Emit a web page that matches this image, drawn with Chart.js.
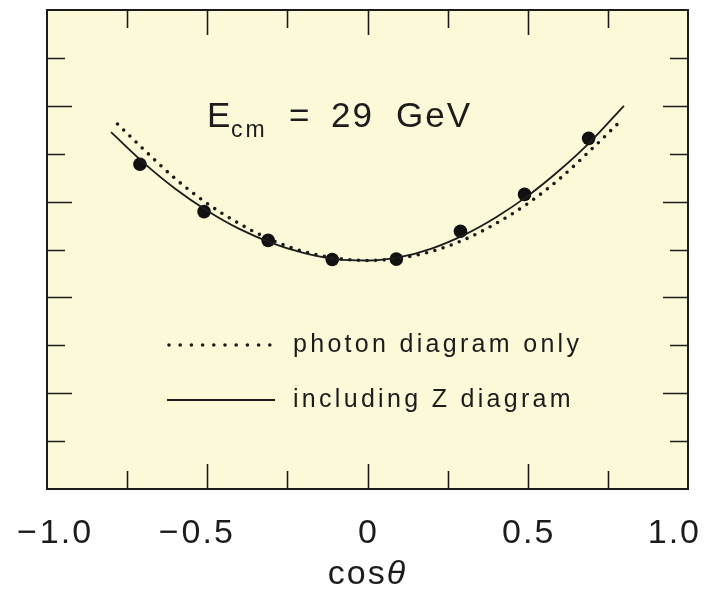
<!DOCTYPE html>
<html>
<head>
<meta charset="utf-8">
<script src="https://cdn.jsdelivr.net/npm/chart.js@4"></script>
<style>
html,body{margin:0;padding:0;background:#fff;}
#wrap{position:relative;width:715px;height:592px;}
</style>
</head>
<body>
<div id="wrap"><canvas id="c"></canvas></div>
<script>
// ---- data ----
const measuredCos = [-0.71, -0.51, -0.31, -0.11, 0.09, 0.29, 0.49, 0.69];
const measuredVal = [6.78, 5.79, 5.19, 4.79, 4.80, 5.38, 6.15, 7.32];

const photonCos = [-0.78, -0.7, -0.6, -0.5, -0.4, -0.3, -0.2, -0.1, 0, 0.1, 0.2, 0.3, 0.4, 0.5, 0.6, 0.7, 0.78];
const photonVal = [7.62, 7.10, 6.48, 5.96, 5.54, 5.20, 4.96, 4.82, 4.77, 4.82, 4.96, 5.20, 5.54, 5.96, 6.48, 7.10, 7.62];

const zCos = [-0.8, -0.7, -0.6, -0.5, -0.4, -0.3, -0.2, -0.1, 0, 0.1, 0.2, 0.3, 0.4, 0.5, 0.6, 0.7, 0.8];
const zVal = [7.45, 6.82, 6.27, 5.81, 5.43, 5.14, 4.93, 4.80, 4.77, 4.84, 5.02, 5.30, 5.67, 6.12, 6.66, 7.28, 8.00];

const xTickValues = [-1, -0.5, 0, 0.5, 1];
const xTickLabels = ['−1.0', '−0.5', '0', '0.5', '1.0'];
const xMarkTicks = [-0.75, -0.5, -0.25, 0, 0.25, 0.5, 0.75];
const xMajorMarks = [-0.5, 0, 0.5];
const yMarkTicks = [1, 2, 3, 4, 5, 6, 7, 8, 9];
const yMajorMarks = [2, 4, 6, 8];

const legendLabels = ['photon diagram only', 'including Z diagram'];
const axisTitle = 'cos';
const axisTitleSymbol = 'θ';

const INK = '#1c1c1c';
const FONT = '"Liberation Sans", Arial, sans-serif';

const pairs = (xs, ys) => xs.map((x, i) => ({x: x, y: ys[i]}));

const decor = {
  id: 'decor',
  beforeDraw(chart) {
    const ctx = chart.ctx, a = chart.chartArea;
    ctx.save();
    ctx.fillStyle = '#ffffff';
    ctx.fillRect(0, 0, chart.width, chart.height);
    ctx.fillStyle = '#fcf9d8';
    ctx.fillRect(a.left, a.top, a.right - a.left, a.bottom - a.top);
    ctx.restore();
  },
  afterDraw(chart) {
    const ctx = chart.ctx, a = chart.chartArea;
    const xs = chart.scales.x, ys = chart.scales.y;
    ctx.save();
    ctx.strokeStyle = INK;
    ctx.fillStyle = INK;
    // frame
    ctx.lineWidth = 2;
    ctx.strokeRect(a.left, a.top, a.right - a.left, a.bottom - a.top);
    // x tick marks (inward, top and bottom)
    ctx.lineWidth = 1.6;
    xMarkTicks.forEach(v => {
      const px = Math.round(xs.getPixelForValue(v)) + 0.5;
      const len = xMajorMarks.includes(v) ? 25 : 18;
      ctx.beginPath();
      ctx.moveTo(px, a.bottom); ctx.lineTo(px, a.bottom - len);
      ctx.moveTo(px, a.top); ctx.lineTo(px, a.top + len);
      ctx.stroke();
    });
    // y tick marks (inward, left and right)
    yMarkTicks.forEach(v => {
      const py = Math.round(ys.getPixelForValue(v)) + 0.5;
      const len = yMajorMarks.includes(v) ? 25 : 18;
      ctx.beginPath();
      ctx.moveTo(a.left, py); ctx.lineTo(a.left + len, py);
      ctx.moveTo(a.right, py); ctx.lineTo(a.right - len, py);
      ctx.stroke();
    });
    // x tick labels: number part centred on tick, minus sign hanging left
    ctx.font = '34px ' + FONT;
    ctx.letterSpacing = '2px';
    ctx.textBaseline = 'alphabetic';
    ctx.textAlign = 'left';
    const baseY = a.bottom + 54;
    xTickValues.forEach((v, i) => {
      const lab = xTickLabels[i];
      const neg = lab.startsWith('−');
      const num = neg ? lab.slice(1) : lab;
      const wNum = ctx.measureText(num).width - 2;
      const wMin = neg ? ctx.measureText('−').width + 1 : 0;
      let start = xs.getPixelForValue(v) - wNum / 2;
      let left = start - wMin;
      if (left < 17) { start += 17 - left; left = 17; }
      if (start + wNum > 699) { const d = start + wNum - 699; start -= d; left -= d; }
      if (neg) ctx.fillText('−', left, baseY);
      ctx.fillText(num, start, baseY);
    });
    // axis title
    ctx.letterSpacing = '2px';
    ctx.font = '34px ' + FONT;
    const wCos = ctx.measureText(axisTitle).width;
    ctx.font = 'italic 34px ' + FONT;
    const wTh = ctx.measureText(axisTitleSymbol).width;
    const tx = xs.getPixelForValue(0) - (wCos + wTh) / 2;
    ctx.font = '34px ' + FONT;
    ctx.fillText(axisTitle, tx, a.bottom + 95);
    ctx.font = 'italic 34px ' + FONT;
    ctx.fillText(axisTitleSymbol, tx + wCos, a.bottom + 95);

    // annotation E_cm = 29 GeV
    ctx.letterSpacing = '2px';
    ctx.font = '35px ' + FONT;
    ctx.fillText('E', 207, 127);
    ctx.font = '23px ' + FONT;
    ctx.letterSpacing = '3px';
    ctx.fillText('cm', 231, 137);
    ctx.letterSpacing = '2px';
    ctx.font = '35px ' + FONT;
    ctx.fillText('=', 289, 127);
    ctx.fillText('29', 331, 127);
    ctx.fillText('GeV', 396, 127);

    // legend
    const ly = [345, 400];
    ctx.lineCap = 'round';
    ctx.lineWidth = 3.6;
    ctx.setLineDash([0, 11.2]);
    ctx.beginPath(); ctx.moveTo(169, ly[0]); ctx.lineTo(274, ly[0]); ctx.stroke();
    ctx.setLineDash([]);
    ctx.lineCap = 'butt';
    ctx.lineWidth = 2;
    ctx.beginPath(); ctx.moveTo(167, ly[1]); ctx.lineTo(275, ly[1]); ctx.stroke();
    ctx.font = '25px ' + FONT;
    ctx.letterSpacing = '3.3px';
    ctx.textBaseline = 'middle';
    ctx.fillText(legendLabels[0], 293, ly[0]);
    ctx.fillText(legendLabels[1], 293, ly[1]);
    ctx.restore();
  }
};

new Chart(document.getElementById('c'), {
  type: 'scatter',
  data: {
    datasets: [
      {
        label: legendLabels[0],
        data: pairs(photonCos, photonVal),
        showLine: true,
        pointRadius: 0,
        borderColor: INK,
        borderWidth: 3.6,
        borderCapStyle: 'round',
        borderDash: [0, 8.6],
        cubicInterpolationMode: 'monotone',
        fill: false
      },
      {
        label: legendLabels[1],
        data: pairs(zCos, zVal),
        showLine: true,
        pointRadius: 0,
        borderColor: INK,
        borderWidth: 1.8,
        cubicInterpolationMode: 'monotone',
        fill: false
      },
      {
        label: 'data',
        data: pairs(measuredCos, measuredVal),
        showLine: false,
        pointRadius: 6.8,
        pointBackgroundColor: '#111',
        pointBorderColor: '#111',
        pointBorderWidth: 0
      }
    ]
  },
  options: {
    responsive: true,
    maintainAspectRatio: false,
    animation: false,
    layout: {padding: {left: 47, right: 27, top: 10, bottom: 103}},
    plugins: {legend: {display: false}, tooltip: {enabled: false}},
    scales: {
      x: {type: 'linear', min: -1, max: 1, display: false},
      y: {type: 'linear', min: 0, max: 10, display: false}
    }
  },
  plugins: [decor]
});
</script>
</body>
</html>
